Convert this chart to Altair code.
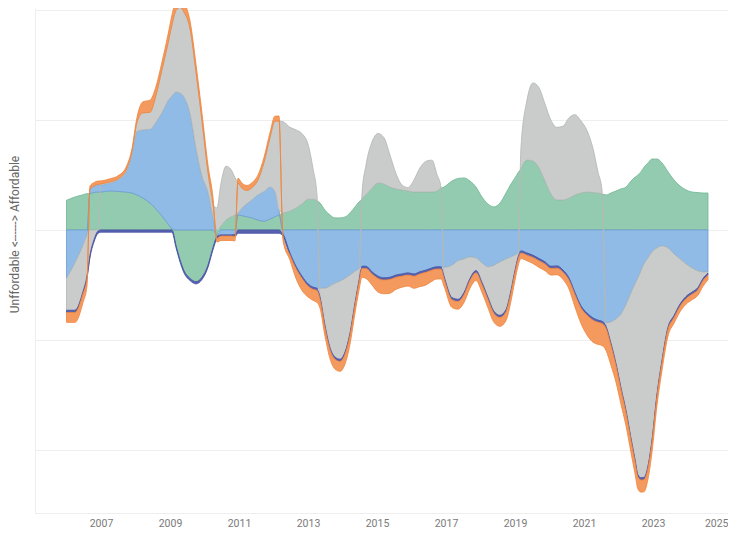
import altair as alt
import pandas as pd

years = [2006.000, 2006.246, 2006.478, 2006.594, 2006.681, 2006.797, 2006.913, 2007.000, 2007.261, 2007.493,
         2007.725, 2007.899, 2008.043, 2008.217, 2008.420, 2008.594, 2008.768, 2008.942, 2009.058, 2009.174,
         2009.290, 2009.406, 2009.580, 2009.754, 2009.928, 2010.101, 2010.246, 2010.362, 2010.478, 2010.623,
         2010.768, 2010.884, 2010.971, 2011.087, 2011.232, 2011.377, 2011.551, 2011.725, 2011.899, 2012.043,
         2012.159, 2012.275, 2012.478, 2012.652, 2012.826, 2013.000, 2013.145, 2013.261, 2013.348, 2013.493,
         2013.638, 2013.783, 2013.928, 2014.072, 2014.217, 2014.362, 2014.478, 2014.565, 2014.681, 2014.855,
         2015.029, 2015.203, 2015.377, 2015.551, 2015.725, 2015.899, 2016.072, 2016.246, 2016.420, 2016.594,
         2016.739, 2016.855, 2016.942, 2017.174, 2017.348, 2017.522, 2017.696, 2017.870, 2018.043, 2018.217,
         2018.391, 2018.565, 2018.739, 2018.884, 2019.000, 2019.087, 2019.174, 2019.348, 2019.522, 2019.696,
         2019.870, 2020.043, 2020.217, 2020.391, 2020.565, 2020.739, 2020.913, 2021.087, 2021.261, 2021.406,
         2021.522, 2021.638, 2021.783, 2021.928, 2022.072, 2022.217, 2022.362, 2022.478, 2022.565, 2022.652,
         2022.739, 2022.855, 2022.971, 2023.116, 2023.261, 2023.435, 2023.609, 2023.783, 2023.957, 2024.130,
         2024.304, 2024.449, 2024.594]

green = [0.27, 0.30, 0.32, 0.33, 0.33, 0.34, 0.345, 0.345, 0.355, 0.35,
         0.345, 0.336, 0.318, 0.29, 0.245, 0.19, 0.127, 0.055, 0.01, -0.14,
         -0.27, -0.37, -0.44, -0.47, -0.43, -0.32, -0.16, -0.05, 0.036, 0.09,
         0.12, 0.136, 0.136, 0.13, 0.12, 0.11, 0.09, 0.08, 0.10, 0.12,
         0.136, 0.155, 0.173, 0.20, 0.236, 0.28, 0.28, 0.265, 0.245, 0.18,
         0.136, 0.11, 0.11, 0.118, 0.155, 0.21, 0.255, 0.28, 0.32, 0.38,
         0.427, 0.418, 0.39, 0.373, 0.364, 0.355, 0.345, 0.345, 0.345, 0.345,
         0.355, 0.38, 0.39, 0.445, 0.468, 0.473, 0.445, 0.39, 0.30, 0.236,
         0.21, 0.245, 0.336, 0.418, 0.473, 0.52, 0.555, 0.636, 0.627, 0.564,
         0.445, 0.327, 0.273, 0.273, 0.29, 0.318, 0.336, 0.345, 0.34, 0.336,
         0.327, 0.318, 0.336, 0.355, 0.373, 0.39, 0.445, 0.48, 0.50, 0.53,
         0.57, 0.61, 0.645, 0.645, 0.61, 0.53, 0.455, 0.40, 0.364, 0.345,
         0.34, 0.336, 0.336]

blue = [-0.44, -0.30, -0.14, -0.05, 0.04, 0.06, 0.07, 0.064, 0.073, 0.105,
        0.18, 0.36, 0.58, 0.62, 0.67, 0.79, 0.94, 1.12, 1.21, 1.255,
        1.245, 1.21, 1.06, 0.745, 0.49, 0.345, 0.12, -0.01, -0.045, -0.045,
        -0.045, -0.04, 0.02, 0.07, 0.12, 0.165, 0.23, 0.27, 0.29, 0.23,
        0.045, -0.036, -0.21, -0.33, -0.42, -0.49, -0.52, -0.53, -0.53, -0.53,
        -0.51, -0.485, -0.465, -0.44, -0.41, -0.375, -0.35, -0.33, -0.33, -0.38,
        -0.42, -0.435, -0.43, -0.41, -0.40, -0.39, -0.40, -0.38, -0.365, -0.345,
        -0.335, -0.335, -0.34, -0.32, -0.28, -0.264, -0.245, -0.255, -0.30, -0.336,
        -0.32, -0.29, -0.264, -0.245, -0.227, -0.21, -0.19, -0.21, -0.23, -0.26,
        -0.29, -0.33, -0.327, -0.364, -0.436, -0.57, -0.69, -0.755, -0.80, -0.82,
        -0.83, -0.845, -0.836, -0.81, -0.764, -0.68, -0.573, -0.49, -0.436, -0.373,
        -0.31, -0.255, -0.20, -0.164, -0.145, -0.164, -0.218, -0.264, -0.31, -0.345,
        -0.373, -0.382, -0.382]

gray = [-0.29, -0.43, -0.42, -0.37, -0.23, -0.09, -0.01, 0.01, 0.01, 0.01,
        0.018, 0.018, 0.08, 0.155, 0.155, 0.245, 0.39, 0.52, 0.645, 0.74,
        0.78, 0.77, 0.77, 0.69, 0.50, 0.18, 0.11, 0.20, 0.39, 0.49,
        0.43, 0.34, 0.27, 0.18, 0.12, 0.11, 0.135, 0.265, 0.45, 0.64,
        0.81, 0.83, 0.76, 0.71, 0.64, 0.50, 0.28, 0.05, -0.08, -0.34,
        -0.56, -0.67, -0.71, -0.67, -0.53, -0.29, -0.11, 0.05, 0.27, 0.42,
        0.45, 0.42, 0.29, 0.14, 0.045, 0.03, 0.11, 0.22, 0.28, 0.29,
        0.15, 0.01, -0.08, -0.295, -0.35, -0.305, -0.195, -0.114, -0.177, -0.277,
        -0.42, -0.486, -0.46, -0.305, -0.14, -0.04, 0.20, 0.545, 0.71, 0.73,
        0.70, 0.67, 0.66, 0.67, 0.73, 0.73, 0.655, 0.56, 0.40, 0.19,
        0.036, -0.03, -0.195, -0.405, -0.67, -0.96, -1.32, -1.595, -1.79, -1.88,
        -1.94, -1.89, -1.71, -1.33, -1.04, -0.72, -0.56, -0.41, -0.295, -0.22,
        -0.15, -0.06, -0.01]

purple = [-0.02] * 28 + [-0.01, -0.01, -0.01, -0.02] + [-0.03] * 9 + [-0.02] * 82

orange = [-0.09, -0.09, -0.08, -0.07, 0.03, 0.03, 0.03, 0.027, 0.027, 0.027,
          0.027, 0.027, 0.045, 0.10, 0.11, 0.08, 0.07, 0.08, 0.09, 0.09,
          0.09, 0.09, 0.07, 0.07, 0.07, 0.065, 0.065, -0.03, -0.04, -0.04,
          -0.04, -0.04, 0.045, 0.045, 0.045, 0.045, 0.045, 0.045, 0.045, 0.045,
          0.045, -0.04, -0.045, -0.09, -0.11, -0.10, -0.10, -0.11, -0.08, -0.075,
          -0.08, -0.09, -0.09, -0.09, -0.08, -0.07, -0.07, -0.08, -0.09, -0.10,
          -0.125, -0.125, -0.125, -0.11, -0.10, -0.10, -0.11, -0.115, -0.115, -0.10,
          -0.09, -0.09, -0.07, -0.07, -0.07, -0.07, -0.07, -0.07, -0.07, -0.075,
          -0.08, -0.08, -0.08, -0.075, -0.07, -0.06, -0.05, -0.05, -0.055, -0.06,
          -0.06, -0.06, -0.06, -0.065, -0.08, -0.11, -0.14, -0.18, -0.20, -0.20,
          -0.20, -0.20, -0.18, -0.15, -0.13, -0.12, -0.11, -0.11, -0.11, -0.11,
          -0.11, -0.10, -0.09, -0.08, -0.07, -0.06, -0.05, -0.05, -0.05, -0.05,
          -0.05, -0.05, -0.04]

series_names = ["Green", "Blue", "Gray", "Purple", "Orange"]
series_values = [green, blue, gray, purple, orange]
fill_colors = ["#93cbb0", "#8fbbe6", "#c9cccb", "#5862b0", "#f59a5e"]
stroke_colors = ["#74b895", "#6e9fd3", "#b3b8b6", "#4a54a6", "#ef8640"]
year_ticks = [2007, 2009, 2011, 2013, 2015, 2017, 2019, 2021, 2023, 2025]

rows = []
for order, (name, vals) in enumerate(zip(series_names, series_values)):
    for t, v in zip(years, vals):
        rows.append({"t": t, "v": v, "s": name, "o": order})
df = pd.DataFrame(rows)

font = "Roboto, Lato, sans-serif"

chart = alt.Chart(df).mark_area(
    interpolate="monotone", clip=True, strokeWidth=1, strokeOpacity=0.85, fillOpacity=1
).encode(
    x=alt.X("t:Q", scale=alt.Scale(domain=[2005.087, 2025.174], nice=False, zero=False),
            axis=alt.Axis(values=year_ticks, format="d", title=None, grid=False, ticks=False,
                          labelPadding=5, labelFontSize=10.5, labelColor="#7a7a7a", labelFont=font,
                          domainColor="#eeeeee", labelFlush=8, labelFlushOffset=6)),
    y=alt.Y("v:Q", stack="zero", scale=alt.Scale(domain=[-2.573, 2.018], nice=False, zero=False),
            axis=alt.Axis(values=[-2, -1, 0, 1, 2], labels=False, ticks=False, grid=True,
                          gridColor="#eeeeee", domainColor="#eeeeee",
                          title="Unffordable <------> Affordable", titleFontSize=12,
                          titleFontWeight="normal", titleColor="#666666", titleFont=font,
                          titleX=-21, titleY=226, titleAngle=270, titleAlign="center",
                          titleBaseline="middle")),
    color=alt.Color("s:N", scale=alt.Scale(domain=series_names, range=fill_colors), legend=None),
    stroke=alt.Stroke("s:N", scale=alt.Scale(domain=series_names, range=stroke_colors), legend=None),
    order=alt.Order("o:Q", sort="ascending"),
).properties(
    width=693, height=505,
    autosize=alt.AutoSizeParams(type="none"),
    padding={"left": 27, "top": 0, "right": 0, "bottom": 17},
).configure_view(strokeWidth=0)

chart.save("out.html", embed_options={"renderer": "svg", "actions": False})
